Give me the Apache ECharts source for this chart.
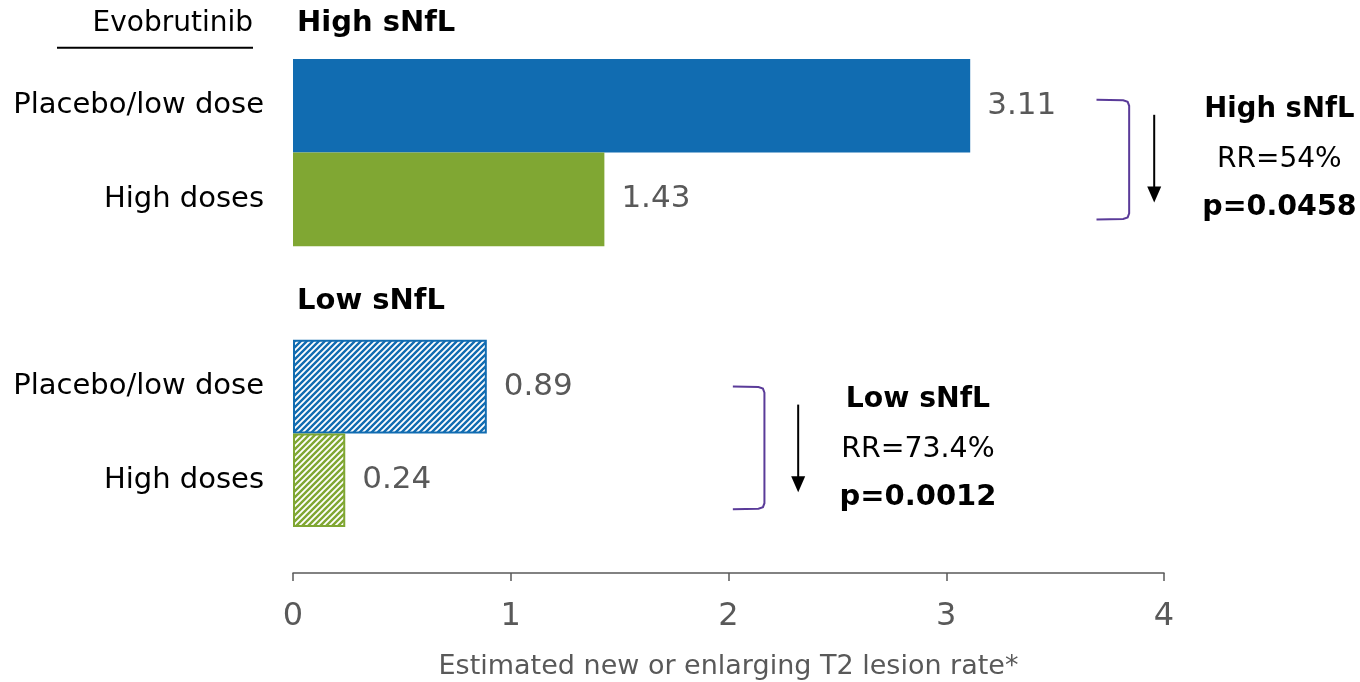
<!DOCTYPE html>
<html>
<head>
<meta charset="utf-8">
<script src="https://cdn.jsdelivr.net/npm/echarts@6/dist/echarts.min.js"></script>
<style>
  html, body { margin: 0; padding: 0; background: #fff; }
  #chart { width: 1360px; height: 682px; }
</style>
</head>
<body>
<div id="chart"></div>
<script>
// Rows from top to bottom; the middle row is a spacer between the two sNfL groups.
const rowKeys = ['high-placebo', 'high-high', 'gap', 'low-placebo', 'low-high'];
const rowLabels = ['Placebo/low dose', 'High doses', '', 'Placebo/low dose', 'High doses'];
const lesionRates = [3.11, 1.43, null, 0.89, 0.24];
const rowGroup = ['high', 'high', null, 'low', 'low'];
const rowArm = ['placebo', 'high', null, 'placebo', 'high'];
const xTicks = [0, 1, 2, 3, 4];

const groupTitles = { high: 'High sNfL', low: 'Low sNfL' };
const relativeReduction = { high: 'RR=54%', low: 'RR=73.4%' };
const pValues = { high: 'p=0.0458', low: 'p=0.0012' };

const BLUE = '#116cb1';
const GREEN = '#80a733';
const FONT = '"DejaVu Sans", Verdana, sans-serif';

// Diagonal hatch tile for the low-sNfL bars
function hatch(color) {
  const s = 6;
  const c = document.createElement('canvas');
  c.width = s; c.height = s;
  const g = c.getContext('2d');
  g.fillStyle = '#fff';
  g.fillRect(0, 0, s, s);
  g.strokeStyle = color;
  g.lineWidth = 2.4;
  g.beginPath();
  g.moveTo(-1, 1); g.lineTo(1, -1);
  g.moveTo(0, s); g.lineTo(s, 0);
  g.moveTo(s - 1, s + 1); g.lineTo(s + 1, s - 1);
  g.stroke();
  return { image: c, repeat: 'repeat' };
}

const barData = lesionRates.map((v, i) => {
  if (v == null) return { value: null };
  const base = rowArm[i] === 'placebo' ? BLUE : GREEN;
  if (rowGroup[i] === 'high') {
    return { value: v, itemStyle: { color: base } };
  }
  return { value: v, itemStyle: { color: hatch(base), borderColor: base, borderWidth: 2 } };
});

const chart = echarts.init(document.getElementById('chart'));

const option = {
  animation: false,
  grid: { left: 293, right: 196, top: 59, bottom: 155, containLabel: false, outerBoundsMode: 'none' },
  xAxis: {
    type: 'value',
    min: 0, max: 4, interval: 1,
    offset: 46,
    axisLine: { show: true, lineStyle: { color: '#595959', width: 1.5 } },
    axisTick: { show: true, length: 8, lineStyle: { color: '#595959', width: 1.5 } },
    splitLine: { show: false },
    axisLabel: {
      color: '#595959', fontFamily: FONT, fontSize: 32, margin: 28,
      formatter: v => (xTicks.indexOf(v) >= 0 ? String(v) : '')
    },
    name: 'Estimated new or enlarging T2 lesion rate*',
    nameLocation: 'middle',
    nameGap: 80,
    nameTextStyle: { color: '#595959', fontFamily: FONT, fontSize: 27 }
  },
  yAxis: {
    type: 'category',
    inverse: true,
    data: rowKeys,
    axisLine: { show: false },
    axisTick: { show: false },
    splitLine: { show: false },
    axisLabel: {
      color: '#000', fontFamily: FONT, fontSize: 29, margin: 29,
      formatter: (val, idx) => rowLabels[idx]
    }
  },
  series: [{
    type: 'bar',
    data: barData,
    barWidth: '100%',
    barCategoryGap: 0,
    label: {
      show: true, position: 'right', distance: 17,
      color: '#595959', fontFamily: FONT, fontSize: 31,
      formatter: p => p.value.toFixed(2)
    }
  }]
};

chart.setOption(option);

// Annotations placed from the axes' own scales
function px(x, row) {
  return chart.convertToPixel({ gridIndex: 0 }, [x, rowKeys[row]]);
}

function bracket(xLeft, xRight, yTop, yBot) {
  const l = px(xLeft, 0)[0], r = px(xRight, 0)[0];
  return {
    type: 'polyline',
    shape: {
      points: [[l, yTop], [r - 6, yTop + 0.5], [r - 1.5, yTop + 2], [r, yTop + 6],
               [r, yBot - 6], [r - 1.5, yBot - 2], [r - 6, yBot - 0.5], [l, yBot]]
    },
    style: { stroke: '#5a3b99', lineWidth: 2, fill: null }
  };
}

function arrow(xv, yTop, yBot) {
  const x = px(xv, 0)[0];
  return [
    { type: 'line', shape: { x1: x, y1: yTop, x2: x, y2: yBot - 14 }, style: { stroke: '#000', lineWidth: 2 } },
    { type: 'polygon', shape: { points: [[x - 7, yBot - 16], [x + 7, yBot - 16], [x, yBot]] }, style: { fill: '#000' } }
  ];
}

function statBlock(group, xv, yTitle, sizes) {
  const x = px(xv, 0)[0];
  return [
    { type: 'text', x: x, y: yTitle, style: { text: groupTitles[group], font: 'bold ' + sizes[0] + 'px ' + FONT, fill: '#000', align: 'center', verticalAlign: 'middle' } },
    { type: 'text', x: x, y: yTitle + 50, style: { text: relativeReduction[group], font: sizes[1] + 'px ' + FONT, fill: '#000', align: 'center', verticalAlign: 'middle' } },
    { type: 'text', x: x, y: yTitle + 98, style: { text: pValues[group], font: 'bold ' + sizes[2] + 'px ' + FONT, fill: '#000', align: 'center', verticalAlign: 'middle' } }
  ];
}

const x0 = px(0, 0)[0];
const r0 = px(0, 0)[1], r1 = px(0, 1)[1], r2 = px(0, 2)[1], r3 = px(0, 3)[1], r4 = px(0, 4)[1];

const graphics = [
  // column heading above the row labels
  { type: 'text', x: x0 - 40, y: r0 - 82, style: { text: 'Evobrutinib', font: '28px ' + FONT, fill: '#000', align: 'right', verticalAlign: 'middle' } },
  { type: 'line', shape: { x1: 57, y1: r0 - 58, x2: x0 - 40, y2: r0 - 58 }, style: { stroke: '#000', lineWidth: 2 } },
  // group headings
  { type: 'text', x: x0 + 4, y: r0 - 82, style: { text: groupTitles.high, font: 'bold 29px ' + FONT, fill: '#000', align: 'left', verticalAlign: 'middle' } },
  { type: 'text', x: x0 + 4, y: r2 + 8, style: { text: groupTitles.low, font: 'bold 29px ' + FONT, fill: '#000', align: 'left', verticalAlign: 'middle' } },
  // high sNfL comparison
  bracket(3.69, 3.84, r0 - 6, r1 + 20),
  ...arrow(3.955, r0 + 9, r1 + 3),
  ...statBlock('high', 4.53, r0 + 4, [27.5, 28, 28.5]),
  // low sNfL comparison
  bracket(2.02, 2.165, r3, r4 + 29),
  ...arrow(2.32, r3 + 18, r4 + 12),
  ...statBlock('low', 2.87, r3 + 13, [28.3, 28.4, 29])
];

chart.setOption({ graphic: { elements: graphics } });
</script>
</body>
</html>
